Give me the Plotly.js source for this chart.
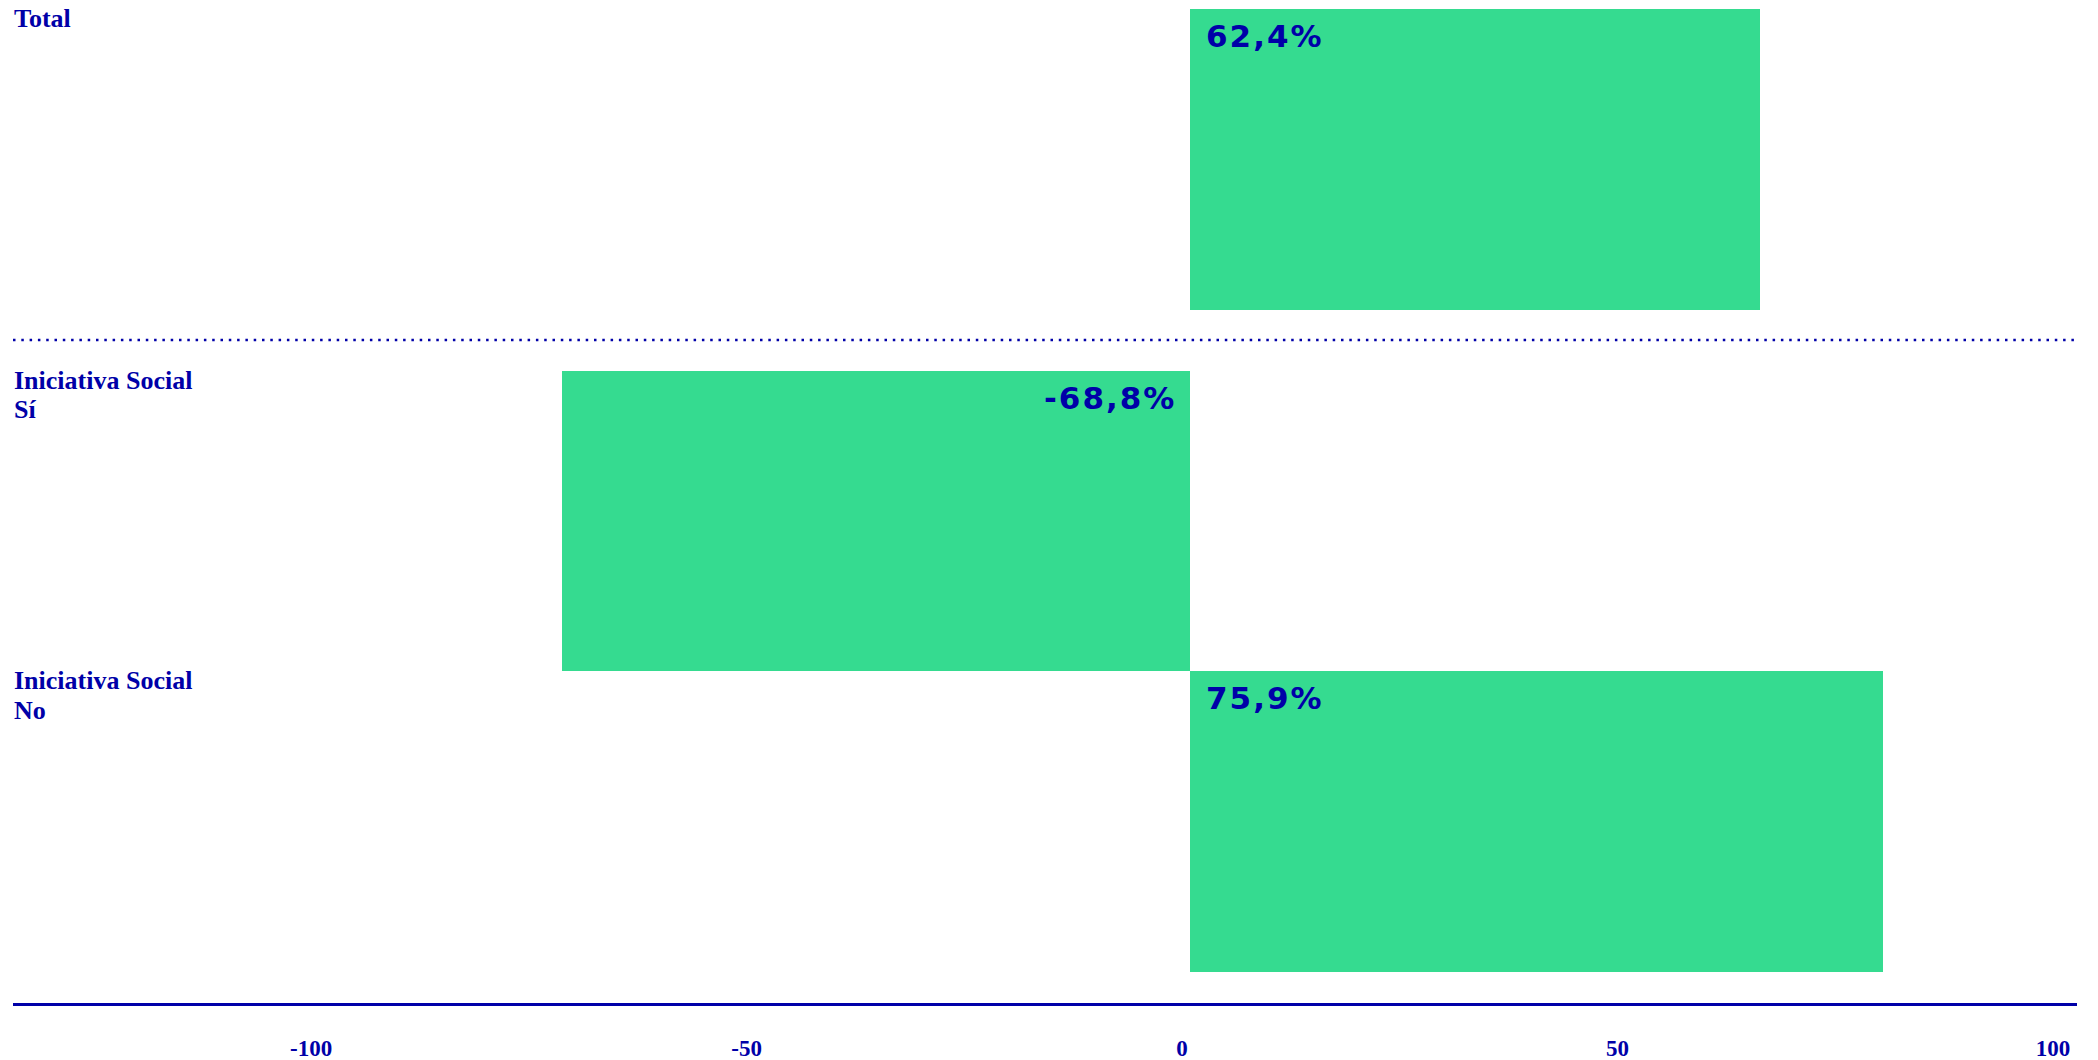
<!DOCTYPE html>
<html>
<head>
<meta charset="utf-8">
<script src="https://cdn.plot.ly/plotly-3.0.1.min.js"></script>
<style>
  html, body { margin: 0; padding: 0; background: #ffffff; }
  #chart { width: 2098px; height: 1060px; }
</style>
</head>
<body>
<div id="chart"></div>
<script>
// ---- Data ----
const categories = ["Total", "Iniciativa Social<br>Sí", "Iniciativa Social<br>No"];
const values = [62.4, -68.8, 75.9];
const groups = ["total", "iniciativa", "iniciativa"];
const tickValues = [-100, -50, 0, 50, 100];
const tickLabels = ["-100", "-50", "0", "50", "100"];

// ---- Styles ----
const BLUE = "#0000a8";
const GREEN = "#35db90";
const serif = "Liberation Serif, Times New Roman, serif";
const wide = "DejaVu Sans, Verdana, sans-serif";
const LINE_H = 29.4;

function fmt(v) {
  return v.toFixed(1).replace(".", ",") + "%";
}

const topIdx = groups.map((g, i) => g === "total" ? i : -1).filter(i => i >= 0);
const botIdx = groups.map((g, i) => g !== "total" ? i : -1).filter(i => i >= 0);

const traces = [
  {
    type: "bar", orientation: "h",
    x: topIdx.map(i => values[i]),
    y: topIdx.map(i => categories[i]),
    xaxis: "x", yaxis: "y",
    marker: { color: GREEN, line: { width: 0 } },
    hoverinfo: "skip", showlegend: false
  },
  {
    type: "bar", orientation: "h",
    x: botIdx.map(i => values[i]),
    y: botIdx.map(i => categories[i]),
    xaxis: "x2", yaxis: "y2",
    marker: { color: GREEN, line: { width: 0 } },
    hoverinfo: "skip", showlegend: false
  },
  {
    // empty carrier so the shared value axis (ticks + baseline) is drawn
    type: "scatter", mode: "none",
    x: tickValues, y: tickValues.map(() => null),
    xaxis: "x3", yaxis: "y3",
    hoverinfo: "skip", showlegend: false
  }
];

const barRange = [-128.93, 97.16];
const tickRange = [-134.23, 102.77];

const annotations = [];
function addRow(i, yref, ydom, xref) {
  categories[i].split("<br>").forEach((line, k) => {
    annotations.push({
      text: "<b>" + line + "</b>",
      xref: "paper", x: 0, xanchor: "left", xshift: -1,
      yref: yref + " domain", y: ydom, yanchor: "top", yshift: 7 - k * LINE_H,
      showarrow: false, align: "left",
      font: { family: serif, size: 26, color: BLUE }
    });
  });
  const v = values[i];
  annotations.push({
    text: '<b><span style="letter-spacing:2px">' + fmt(v) + '</span></b>',
    xref: xref, x: 0,
    xanchor: v >= 0 ? "left" : "right",
    xshift: v >= 0 ? 14 : -12,
    yref: yref + " domain", y: ydom, yanchor: "top", yshift: -7,
    showarrow: false,
    font: { family: wide, size: 31, color: BLUE, weight: 900 }
  });
}
topIdx.forEach((i, k) => addRow(i, "y", 1 - k / topIdx.length, "x"));
botIdx.forEach((i, k) => addRow(i, "y2", 1 - k / botIdx.length, "x2"));

const layout = {
  width: 2098, height: 1060,
  margin: { l: 13, r: 21, t: 0, b: 57, pad: 0 },
  paper_bgcolor: "#ffffff", plot_bgcolor: "#ffffff",
  bargap: 0,
  showlegend: false,
  xaxis: { anchor: "y", range: barRange, visible: false, fixedrange: true },
  xaxis2: { anchor: "y2", range: barRange, visible: false, fixedrange: true },
  xaxis3: {
    anchor: "y3",
    range: tickRange, tickmode: "array", tickvals: tickValues, ticktext: tickLabels,
    showline: true, linecolor: BLUE, linewidth: 3,
    ticks: "outside", ticklen: 22, tickcolor: "rgba(0,0,0,0)",
    showgrid: false, zeroline: false, fixedrange: true,
    tickfont: { family: serif, size: 23, color: BLUE, weight: 700 }
  },
  yaxis: {
    domain: [0.69093, 0.99103], type: "category",
    categoryarray: topIdx.map(i => categories[i]), categoryorder: "array",
    range: [-0.5, 0.5], visible: false, fixedrange: true
  },
  yaxis2: {
    domain: [0.03091, 0.63011], type: "category",
    categoryarray: botIdx.map(i => categories[i]), categoryorder: "array",
    range: [botIdx.length - 0.5, -0.5], visible: false, fixedrange: true
  },
  yaxis3: {
    anchor: "x3", domain: [0, 0.02], range: [0, 1],
    visible: false, fixedrange: true, showgrid: false, zeroline: false
  },
  shapes: [{
    type: "line", xref: "paper", yref: "paper",
    x0: 0, x1: 1, y0: 0.66102, y1: 0.66102,
    line: { color: BLUE, width: 2.5, dash: "2.5px,5.8px" }
  }],
  annotations: annotations
};

Plotly.newPlot("chart", traces, layout, { displayModeBar: false, staticPlot: true });
</script>
</body>
</html>
